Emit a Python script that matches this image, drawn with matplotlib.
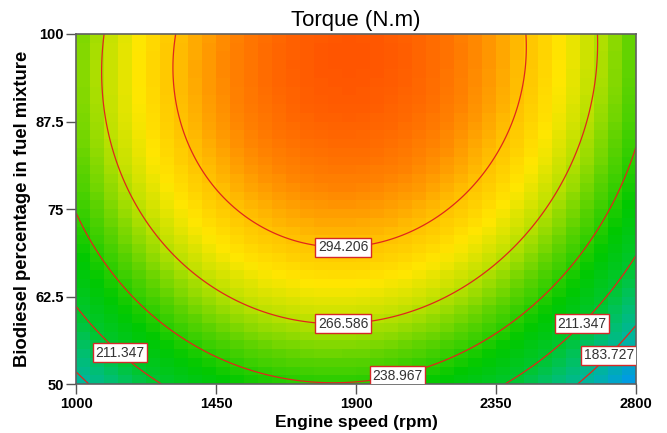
import numpy as np
import matplotlib
matplotlib.use("Agg")
import matplotlib.pyplot as plt
from matplotlib.colors import LinearSegmentedColormap

# Fitted quadratic response surface for torque (coded factors, -1..1)
# order: intercept, A (speed), B (biodiesel), A^2, B^2, AB
coef_names = ["b0", "A", "B", "A2", "B2", "AB"]
coef_values = [304.32, -7.17, 42.2, -71.7, -24.3, 4.5]

speed_range = [1000, 2800]          # rpm
biodiesel_range = [50, 100]         # %

x_ticks = [1000, 1450, 1900, 2350, 2800]
y_ticks = [50, 62.5, 75, 87.5, 100]
y_tick_labels = ["50", "62.5", "75", "87.5", "100"]

contour_levels = [183.727, 211.347, 238.967, 266.586, 294.206]
# where the contour labels sit (rpm, %)
label_speed = [1858, 1858, 2029, 1177, 2620, 2710]
label_bio = [70.4, 59.4, 51.9, 56.3, 58.9, 54.3]

# colour scale anchors (torque value -> colour)
cmap_values = [156, 180, 195, 210, 230, 250, 268, 282, 296, 310, 323]
cmap_colors = ["#0096f0", "#00b4a0", "#00bf70", "#00c630", "#00c800",
               "#5ad200", "#bee100", "#ffe600", "#ffbe00", "#ff8200",
               "#ff5500"]


def torque(speed, bio):
    b = dict(zip(coef_names, coef_values))
    a = (speed - 1900) / 900
    c = (bio - 75) / 25
    return (b["b0"] + b["A"] * a + b["B"] * c + b["A2"] * a ** 2
            + b["B2"] * c ** 2 + b["AB"] * a * c)


vmin, vmax = cmap_values[0], cmap_values[-1]
pos = [(v - vmin) / (vmax - vmin) for v in cmap_values]
cmap = LinearSegmentedColormap.from_list("de", list(zip(pos, cmap_colors)))

fig, ax = plt.subplots(figsize=(6.67, 4.33), dpi=100)
fig.subplots_adjust(left=0.114, right=0.9535, bottom=0.113, top=0.9215)

# coarse cells for the coloured surface
xe = np.linspace(speed_range[0], speed_range[1], 41)
ye = np.linspace(biodiesel_range[0], biodiesel_range[1], 41)
xc = (xe[:-1] + xe[1:]) / 2
yc = (ye[:-1] + ye[1:]) / 2
XC, YC = np.meshgrid(xc, yc)
ax.pcolormesh(xe, ye, torque(XC, YC), cmap=cmap, vmin=vmin, vmax=vmax,
              shading="flat")

# smooth contour lines
xf = np.linspace(speed_range[0], speed_range[1], 300)
yf = np.linspace(biodiesel_range[0], biodiesel_range[1], 300)
XF, YF = np.meshgrid(xf, yf)
cs = ax.contour(XF, YF, torque(XF, YF), levels=contour_levels,
                colors="#e0261c", linewidths=0.9)
labels = ax.clabel(cs, fmt="%.3f", manual=list(zip(label_speed, label_bio)),
                   inline=False, fontsize=10, colors="#333333")
for t in labels:
    t.set_rotation(0)
    t.set_family("Liberation Sans")
    t.set_bbox(dict(boxstyle="square,pad=0.18", fc="white", ec="#d62828",
                    lw=1.0))
    t.set_zorder(5)

ax.set_xlim(speed_range)
ax.set_ylim(biodiesel_range)
ax.set_xticks(x_ticks)
ax.set_xticklabels([str(v) for v in x_ticks])
ax.set_yticks(y_ticks)
ax.set_yticklabels(y_tick_labels)
ax.tick_params(direction="out", length=7, width=1, color="#555555",
               labelsize=10.5, pad=2)
for lab in ax.get_xticklabels() + ax.get_yticklabels():
    lab.set_fontweight("bold")
    lab.set_family("Liberation Sans")
for s in ax.spines.values():
    s.set_color("#606060")
    s.set_linewidth(1.2)

ax.set_title("Torque (N.m)", fontsize=16, family="Liberation Sans", pad=6)
ax.set_xlabel("Engine speed (rpm)", fontsize=12.5, fontweight="bold",
              family="Liberation Sans", labelpad=3)
ax.set_ylabel("Biodiesel percentage in fuel mixture", fontsize=13.3,
              fontweight="bold", family="Liberation Sans", labelpad=3)

fig.savefig("out.png", dpi=100)
